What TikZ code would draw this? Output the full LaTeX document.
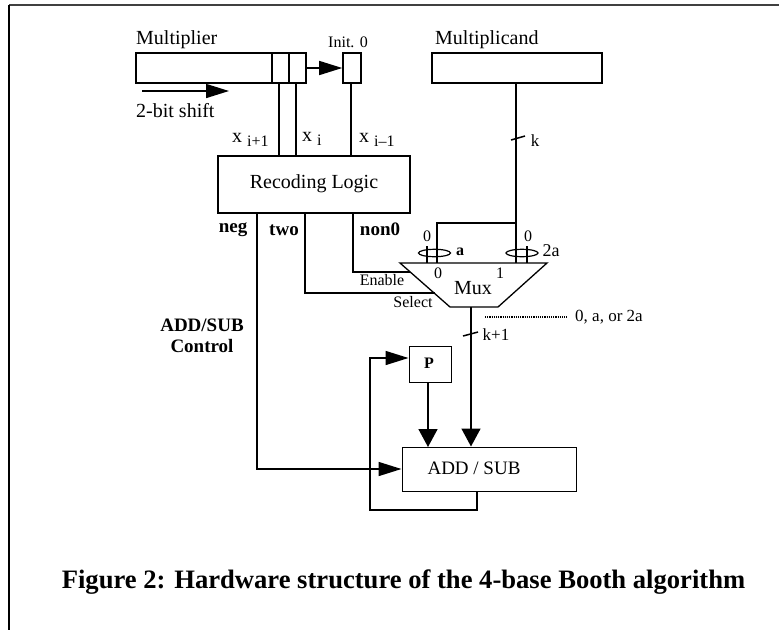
\documentclass[tikz,border=0pt]{standalone}
\usepackage{fontspec}
\setmainfont{Liberation Serif}
\usetikzlibrary{arrows.meta}
\newcommand{\lowidx}[1]{\raisebox{-.35ex}{\fontsize{16}{16}\selectfont #1}}
\tikzset{
  wire/.style={line width=1.6pt},
  tip/.style={line width=1.6pt,-{Triangle[length=18pt,width=19pt]}},
  side tip/.style={line width=1.6pt,-{Triangle[length=23pt,width=14pt]}},
  reg/.style={draw,line width=1.6pt,inner sep=0,minimum height=30},
  unit/.style={draw,line width=1pt,inner sep=0},
  lab/.style={inner sep=0,font=\fontsize{20}{22}\selectfont},
  small lab/.style={inner sep=0,font=\fontsize{16}{18}\selectfont},
  bold lab/.style={inner sep=0,font=\fontsize{19}{21}\selectfont\bfseries}
}
\begin{document}
\begin{tikzpicture}[x=1pt,y=-1pt]
  \useasboundingbox (0,0) rectangle (779,630);
  \draw[line width=1.5pt,black!75](779,5)--(9,5);
  \draw[line width=1.2pt](9,5)--(9,630);

  \node[reg,minimum width=170] (mult) at (221,68) {};
  \node[reg,minimum width=17] (cellhi) at (280.5,68) {};
  \node[reg,minimum width=17] (celllo) at (297.5,68) {};
  \node[reg,minimum width=18] (init) at (352,68) {};
  \node[reg,minimum width=170] (mcand) at (517,68) {};
  \node[draw,line width=1.6pt,inner sep=0,minimum width=192,minimum height=57] (recode) at (314,184.5) {};
  \node[lab] (recodetxt) at (314,184) {Recoding Logic};
  \node[unit,minimum width=42,minimum height=36] (preg) at (430,364) {};
  \node[lab] (ptxt) at (429,363) {\fontsize{16}{16}\selectfont\bfseries P};
  \node[unit,minimum width=174,minimum height=44] (addsub) at (489,469) {};
  \node[lab,font=\fontsize{19}{21}\selectfont] (addtxt) at (474,468) {ADD / SUB};

  \coordinate (muxtl) at (400,263);
  \coordinate (muxtr) at (547,263);
  \coordinate (muxbr) at (498,307);
  \coordinate (muxbl) at (450,307);
  \draw[line width=1.3pt](muxtl)--(muxtr)--(muxbr)--(muxbl)--cycle;
  \node[lab] (muxtxt) at (473,288) {Mux};

  \node[lab,anchor=west] (multtxt) at (136,40) {Multiplier};
  \node[small lab] (inittxt) at (348,42) {Init. 0};
  \node[lab,anchor=west] (mcandtxt) at (435,40) {Multiplicand};
  \node[lab,anchor=west] (shifttxt) at (136,111) {2-bit shift};
  \node[lab,anchor=west] (xhi) at (232,140) {x \lowidx{i+1}};
  \node[lab,anchor=west] (xmid) at (302,139) {x \lowidx{i}};
  \node[lab,anchor=west] (xlo) at (359,140) {x \lowidx{i–1}};
  \node[bold lab] (negtxt) at (233,230) {neg};
  \node[bold lab] (twotxt) at (284,230) {two};
  \node[bold lab] (nonztxt) at (380,229) {non0};
  \node[small lab] (entxt) at (382,280) {Enable};
  \node[small lab] (seltxt) at (413,302) {Select};
  \node[small lab] (zeroa) at (427,236) {0};
  \node[small lab] (zerob) at (528,236) {0};
  \node[small lab,font=\fontsize{16}{16}\selectfont\bfseries] (atxt) at (460,252) {a};
  \node[lab,font=\fontsize{18}{18}\selectfont] (twoatxt) at (551,251) {2a};
  \node[small lab] (inzero) at (438,273) {0};
  \node[small lab] (inone) at (500,273) {1};
  \node[small lab,font=\fontsize{17}{17}\selectfont] (ktxt) at (535,141) {k};
  \node[small lab,font=\fontsize{17}{17}\selectfont] (koutxt) at (496,335) {k+1};
  \node[lab,anchor=west,font=\fontsize{17}{17}\selectfont] (outtxt) at (575,317) {0, a, or 2a};
  \node[bold lab,align=center] (ctrltxt) at (202,336) {ADD/SUB\\Control};
  \node[lab,font=\fontsize{26.6}{28}\selectfont\bfseries] (caption) at (403.5,582) {Figure 2: Hardware structure of the 4-base Booth algorithm};

  \coordinate (shiftl) at (142,91);
  \coordinate (shiftr) at (229,91);
  \coordinate (negdrop) at (257,213);
  \coordinate (twodrop) at (305,213);
  \coordinate (nonzdrop) at (353,213);
  \coordinate (enpt) at (410,272);
  \coordinate (selpt) at (435,293);
  \coordinate (xhidrop) at (279,83);
  \coordinate (xmiddrop) at (296,83);
  \coordinate (xlodrop) at (351,83);
  \coordinate (mcanddrop) at (516,83);
  \coordinate (mcandfork) at (516,223);
  \coordinate (ainl) at (437,223);
  \coordinate (mout) at (471,307);
  \coordinate (pin) at (428,447);
  \coordinate (addout) at (477,491);
  \coordinate (fbcorner) at (370,510);
  \coordinate (fbtop) at (370,358);
  \coordinate (dotl) at (485,317);
  \coordinate (dotr) at (567,317);

  \draw[side tip](celllo.east|-init.west)--(init.west);
  \draw[side tip](shiftl)--(shiftr);
  \draw[wire](xhidrop)--(xhidrop|-recode.north);
  \draw[wire](xmiddrop)--(xmiddrop|-recode.north);
  \draw[wire](xlodrop)--(xlodrop|-recode.north);
  \draw[wire](mcanddrop)--(mcanddrop|-muxtl);
  \draw[wire](mcandfork)--(ainl)--(ainl|-muxtl);
  \draw[wire](nonzdrop)|-(enpt);
  \draw[wire](twodrop)|-(selpt);
  \draw[side tip](negdrop)|-(addsub.west);
  \draw[tip](mout)--(mout|-addsub.north);
  \draw[tip](preg.south-|pin)--(pin);
  \draw[side tip](addout)|-(fbcorner)--(fbtop)--(fbtop-|preg.west);
  \draw[densely dotted,line width=1.2pt](dotl)--(dotr);

  \draw[wire](427,246)--(427,263);
  \draw[wire](527,246)--(527,263);
  \draw[line width=1.2pt](434.5,253) ellipse (16 and 3.7);
  \draw[line width=1.2pt](522,253) ellipse (16 and 3.7);
  \draw[line width=1.5pt](511,140)--(525,136);
  \draw[line width=1.5pt](463,336)--(478,332);
\end{tikzpicture}
\end{document}
